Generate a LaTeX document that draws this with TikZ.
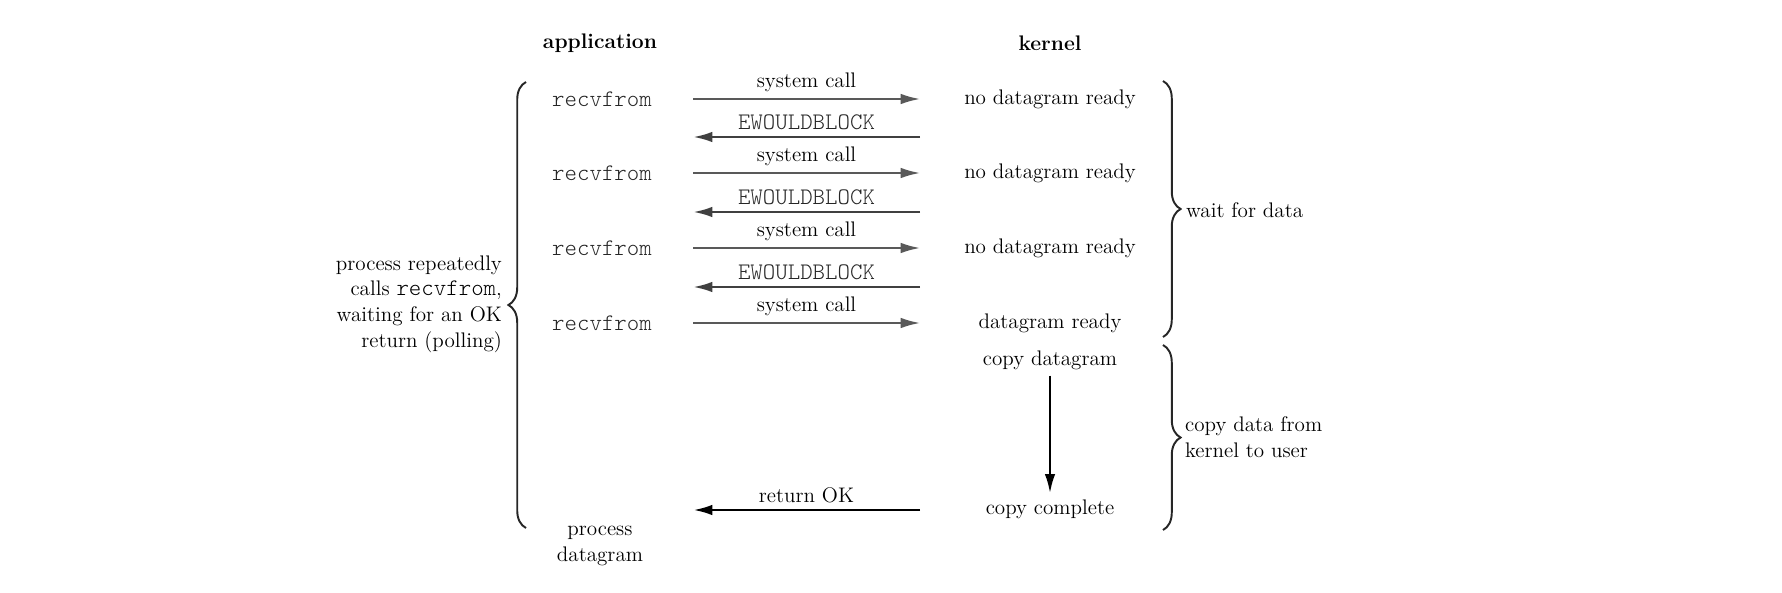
\documentclass[tikz,border=0pt]{standalone}
\usepackage{fontspec}
\setmonofont{Latin Modern Mono Light}
\usetikzlibrary{arrows.meta,decorations.pathreplacing}

\newcommand{\codeword}[1]{{\fontsize{13.5}{14.6}\selectfont\ttfamily #1}}

\tikzset{
  lbl/.style={font=\fontsize{12}{14.6}\selectfont, text=black},
  code/.style={font=\fontsize{13.5}{14.6}\selectfont\ttfamily, text=black!85},
  head/.style={font=\fontsize{12}{14.6}\selectfont\bfseries, text=black},
  call/.style={-{Latex[length=11pt,width=6pt]}, line width=1.1pt, black!65},
  back/.style={-{Latex[length=11pt,width=6pt]}, line width=1.5pt, black!75},
  ret/.style={-{Latex[length=11pt,width=6pt]}, line width=1.6pt, black},
  grp/.style={decorate, decoration={brace, amplitude=10pt}, line width=1.1pt, black!85},
}

\begin{document}
\begin{tikzpicture}[x=0.02cm,y=-0.02cm]
\useasboundingbox (0,0) rectangle (1782,592);

% Column heads
\node[head] (app) at (600,43) {application};
\node[head] (ker) at (1050,43) {kernel};

% Polling: system calls
\foreach \y/\msg [count=\i] in {99/no datagram ready,173/no datagram ready,248/no datagram ready,323/datagram ready} {
  \node[code] (rcv\i) at (602,\y) {recvfrom};
  \node[lbl] (st\i) at (1050,\y) {\msg};
  \coordinate (cs\i) at (693,\y);
  \coordinate (ce\i) at (920,\y);
  \draw[call] (cs\i) -- node[lbl,above] {system call} (ce\i);
}

% Polling: error returns
\foreach \y [count=\i] in {137,212,287} {
  \coordinate (es\i) at (920,\y);
  \coordinate (ee\i) at (693,\y);
  \draw[back] (es\i) -- node[code,above] {EWOULDBLOCK} (ee\i);
}

% Copy phase
\node[lbl] (cpy) at (1050,360) {copy datagram};
\node[lbl] (cpc) at (1050,509) {copy complete};
\draw[ret,line width=1.4pt] (cpy) -- (cpc);

\coordinate (oks) at (920,510);
\coordinate (oke) at (693,510);
\draw[ret] (oks) -- node[lbl,above] {return OK} (oke);
\node[lbl,align=center] (proc) at (600,546) {process\\datagram};

% Braces
\draw[grp] (526,528) -- (526,82);
\node[lbl,align=right,anchor=east,inner sep=1pt] (poll) at (504,304)
  {process repeatedly\\calls \codeword{recvfrom},\\waiting for an OK\\return (polling)};

\draw[grp] (1163,81) -- (1163,337);
\node[lbl,anchor=west,inner sep=1pt] (wait) at (1184,210) {wait for data};

\draw[grp] (1163,345) -- (1163,530);
\node[lbl,align=left,anchor=west,inner sep=1pt] (copy) at (1183,437) {copy data from\\kernel to user};
\end{tikzpicture}
\end{document}
